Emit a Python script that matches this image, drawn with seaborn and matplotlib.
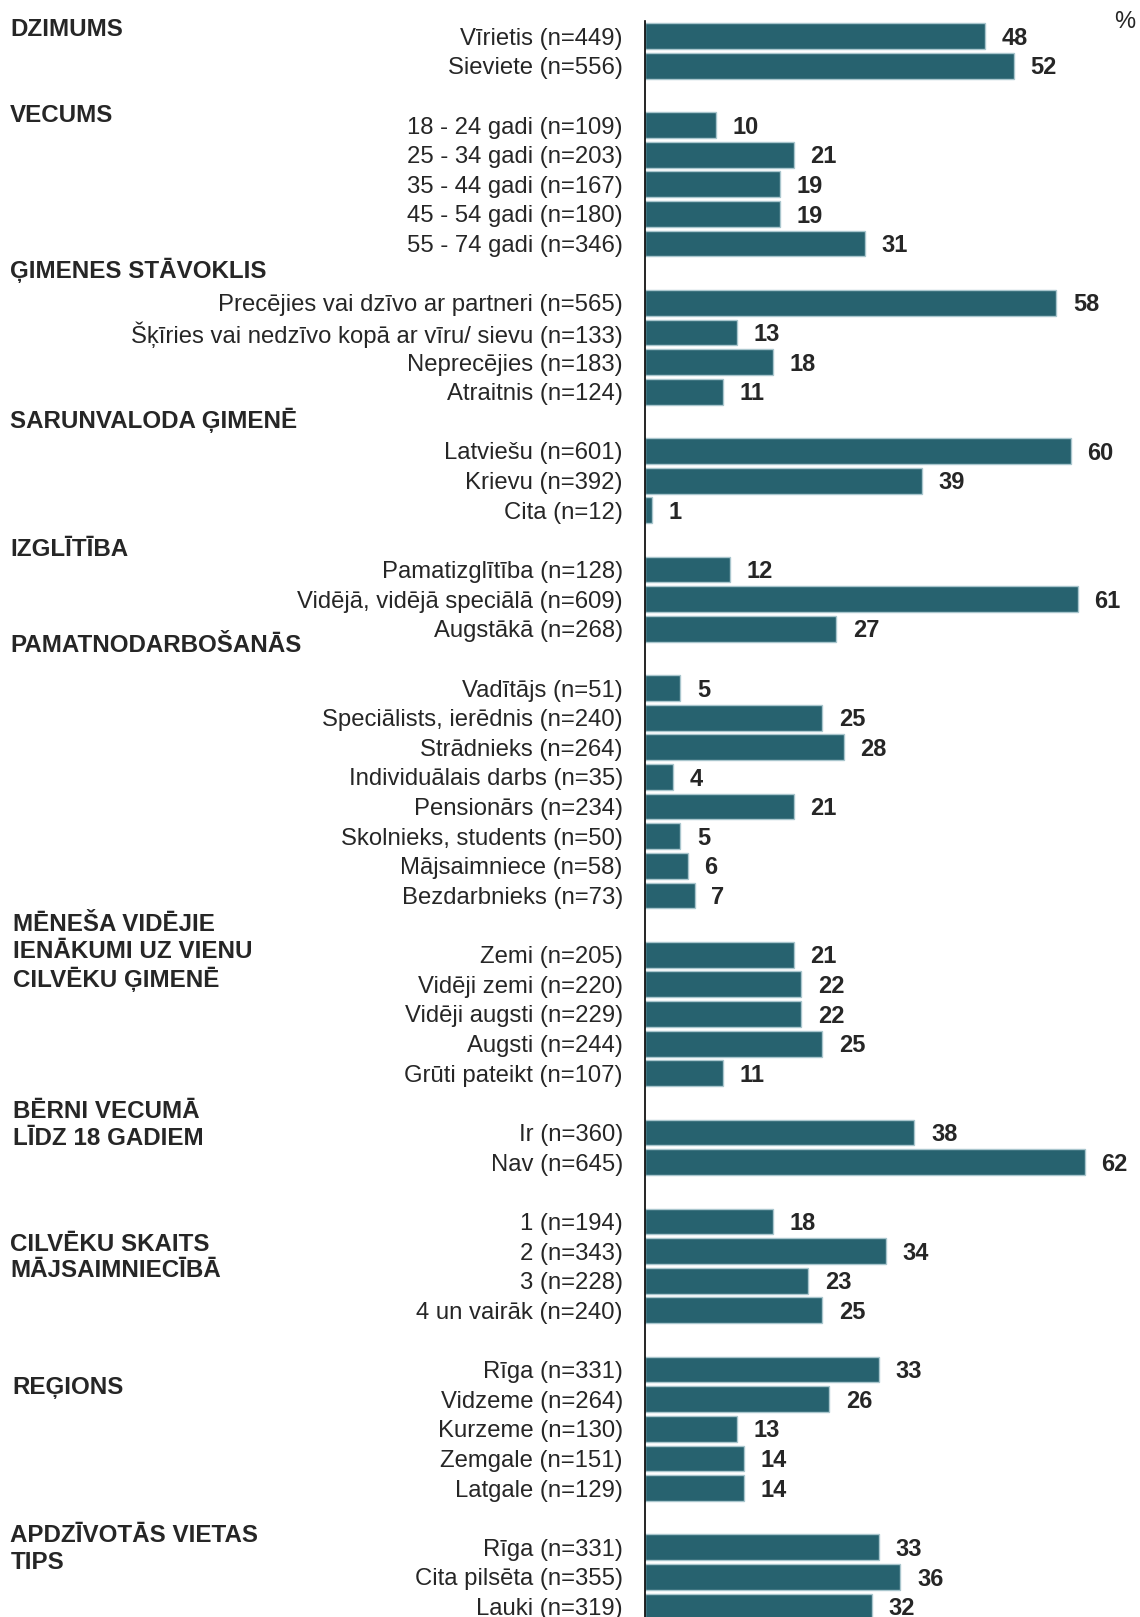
import pandas as pd
import matplotlib
matplotlib.use("Agg")
import matplotlib.pyplot as plt
import matplotlib.transforms as mtransforms
import seaborn as sns

# rows of the chart, None = empty spacer row
labels = [
    "Vīrietis (n=449)", "Sieviete (n=556)", None,
    "18 - 24 gadi (n=109)", "25 - 34 gadi (n=203)", "35 - 44 gadi (n=167)",
    "45 - 54 gadi (n=180)", "55 - 74 gadi (n=346)", None,
    "Precējies vai dzīvo ar partneri (n=565)", "Šķīries vai nedzīvo kopā ar vīru/ sievu (n=133)",
    "Neprecējies (n=183)", "Atraitnis (n=124)", None,
    "Latviešu (n=601)", "Krievu (n=392)", "Cita (n=12)", None,
    "Pamatizglītība (n=128)", "Vidējā, vidējā speciālā (n=609)", "Augstākā (n=268)", None,
    "Vadītājs (n=51)", "Speciālists, ierēdnis (n=240)", "Strādnieks (n=264)",
    "Individuālais darbs (n=35)", "Pensionārs (n=234)", "Skolnieks, students (n=50)",
    "Mājsaimniece (n=58)", "Bezdarbnieks (n=73)", None,
    "Zemi (n=205)", "Vidēji zemi (n=220)", "Vidēji augsti (n=229)", "Augsti (n=244)",
    "Grūti pateikt (n=107)", None,
    "Ir (n=360)", "Nav (n=645)", None,
    "1 (n=194)", "2 (n=343)", "3 (n=228)", "4 un vairāk (n=240)", None,
    "Rīga (n=331)", "Vidzeme (n=264)", "Kurzeme (n=130)", "Zemgale (n=151)",
    "Latgale (n=129)", None,
    "Rīga (n=331)", "Cita pilsēta (n=355)", "Lauki (n=319)",
]
values = [
    48, 52, None,
    10, 21, 19, 19, 31, None,
    58, 13, 18, 11, None,
    60, 39, 1, None,
    12, 61, 27, None,
    5, 25, 28, 4, 21, 5, 6, 7, None,
    21, 22, 22, 25, 11, None,
    38, 62, None,
    18, 34, 23, 25, None,
    33, 26, 13, 14, 14, None,
    33, 36, 32,
]
# group headings: text, row position, x in figure coords
groups = [
    ("DZIMUMS", -0.21, 0.009),
    ("VECUMS", 2.68, 0.009),
    ("ĢIMENES STĀVOKLIS", 7.90, 0.009),
    ("SARUNVALODA ĢIMENĒ", 12.95, 0.009),
    ("IZGLĪTĪBA", 17.34, 0.009),
    ("PAMATNODARBOŠANĀS", 20.58, 0.009),
    ("MĒNEŠA VIDĒJIE\nIENĀKUMI UZ VIENU\nCILVĒKU ĢIMENĒ", 30.92, 0.011),
    ("BĒRNI VECUMĀ\nLĪDZ 18 GADIEM", 36.75, 0.011),
    ("CILVĒKU SKAITS\nMĀJSAIMNIECĪBĀ", 41.21, 0.009),
    ("REĢIONS", 45.61, 0.011),
    ("APDZĪVOTĀS VIETAS\nTIPS", 51.06, 0.009),
]

rows = [i for i, l in enumerate(labels) if l is not None]
df = pd.DataFrame({
    "row": rows,
    "value": [values[i] for i in rows],
    "label": [labels[i] for i in rows],
})

sns.set_style("white")
plt.rcParams["font.family"] = ["Liberation Sans", "DejaVu Sans"]

fig = plt.figure(figsize=(11.4, 16.17), dpi=100)
ax = fig.add_axes([0.5658, 0.0, 0.4342, 0.987])

sns.barplot(data=df, x="value", y="row", orient="h", native_scale=True,
            color="#27626f", saturation=1, width=0.87,
            edgecolor="#a9c6cd", linewidth=1, ax=ax)

ax.set_xlim(0, 69.8)
ax.set_ylim(53.35, -0.51)
ax.set_yticks(df["row"])
ax.set_yticklabels(df["label"], fontsize=17.2)
ax.tick_params(axis="y", length=0, pad=16)
ax.set_xticks([])
ax.set_xlabel("")
ax.set_ylabel("")
for s in ["top", "right", "bottom"]:
    ax.spines[s].set_visible(False)
ax.spines["left"].set_color("black")
ax.spines["left"].set_linewidth(1.2)

for c in ax.containers:
    anns = ax.bar_label(c, fmt="%d", padding=12, fontsize=17, fontweight="bold")
    for a in anns:
        a.xyann = (12, -1.5)

trans = mtransforms.blended_transform_factory(fig.transFigure, ax.transData)
for text, y, x in groups:
    ax.text(x, y, text, transform=trans, fontsize=17.4, fontweight="bold",
            ha="left", va="center", linespacing=1.19, clip_on=False)

fig.text(0.996, 0.993, "%", fontsize=17, ha="right", va="top")

fig.savefig("out.png", dpi=100)
